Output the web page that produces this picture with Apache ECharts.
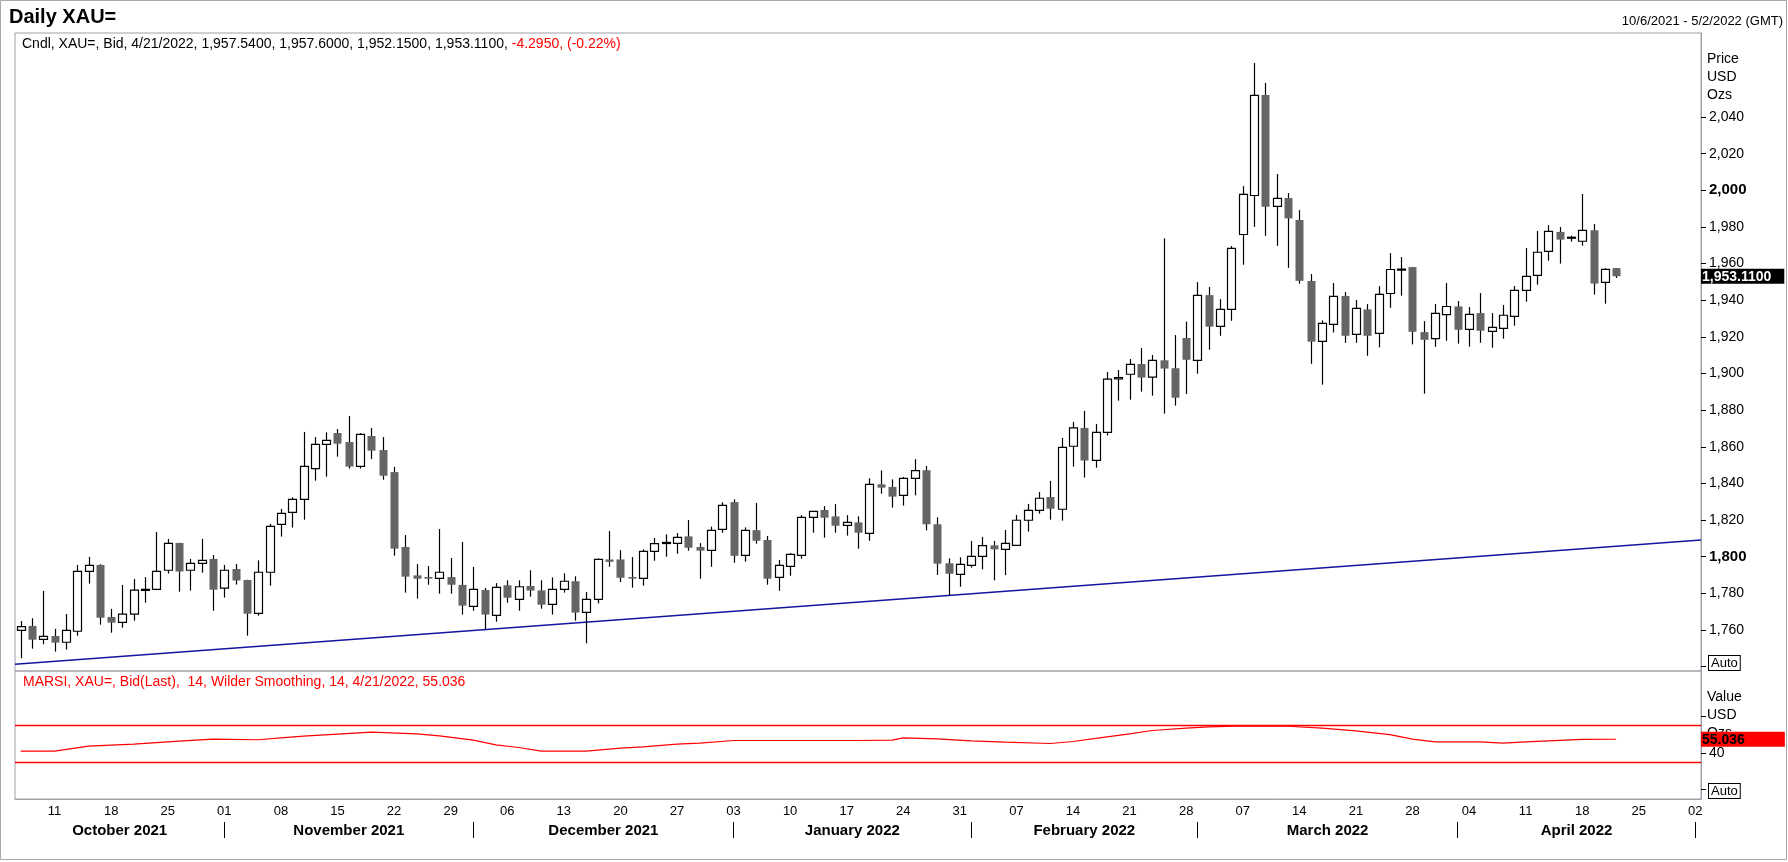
<!DOCTYPE html>
<html>
<head>
<meta charset="utf-8">
<title>Daily XAU=</title>
<script src="https://cdn.jsdelivr.net/npm/echarts@6/dist/echarts.min.js"></script>
<style>
html, body { margin: 0; padding: 0; background: #fff; }
#main { width: 1788px; height: 862px; }
</style>
</head>
<body>
<div id="main"></div>
<script>
// trading days shown on the axis (10/6/2021 - 5/2/2022)
var tradingDays = [
 '2021-10-06','2021-10-07','2021-10-08','2021-10-11','2021-10-12','2021-10-13','2021-10-14','2021-10-15','2021-10-18','2021-10-19',
 '2021-10-20','2021-10-21','2021-10-22','2021-10-25','2021-10-26','2021-10-27','2021-10-28','2021-10-29','2021-11-01','2021-11-02',
 '2021-11-03','2021-11-04','2021-11-05','2021-11-08','2021-11-09','2021-11-10','2021-11-11','2021-11-12','2021-11-15','2021-11-16',
 '2021-11-17','2021-11-18','2021-11-19','2021-11-22','2021-11-23','2021-11-24','2021-11-25','2021-11-26','2021-11-29','2021-11-30',
 '2021-12-01','2021-12-02','2021-12-03','2021-12-06','2021-12-07','2021-12-08','2021-12-09','2021-12-10','2021-12-13','2021-12-14',
 '2021-12-15','2021-12-16','2021-12-17','2021-12-20','2021-12-21','2021-12-22','2021-12-23','2021-12-24','2021-12-27','2021-12-28',
 '2021-12-29','2021-12-30','2021-12-31','2022-01-03','2022-01-04','2022-01-05','2022-01-06','2022-01-07','2022-01-10','2022-01-11',
 '2022-01-12','2022-01-13','2022-01-14','2022-01-17','2022-01-18','2022-01-19','2022-01-20','2022-01-21','2022-01-24','2022-01-25',
 '2022-01-26','2022-01-27','2022-01-28','2022-01-31','2022-02-01','2022-02-02','2022-02-03','2022-02-04','2022-02-07','2022-02-08',
 '2022-02-09','2022-02-10','2022-02-11','2022-02-14','2022-02-15','2022-02-16','2022-02-17','2022-02-18','2022-02-21','2022-02-22',
 '2022-02-23','2022-02-24','2022-02-25','2022-02-28','2022-03-01','2022-03-02','2022-03-03','2022-03-04','2022-03-07','2022-03-08',
 '2022-03-09','2022-03-10','2022-03-11','2022-03-14','2022-03-15','2022-03-16','2022-03-17','2022-03-18','2022-03-21','2022-03-22',
 '2022-03-23','2022-03-24','2022-03-25','2022-03-28','2022-03-29','2022-03-30','2022-03-31','2022-04-01','2022-04-04','2022-04-05',
 '2022-04-06','2022-04-07','2022-04-08','2022-04-11','2022-04-12','2022-04-13','2022-04-14','2022-04-15','2022-04-18','2022-04-19',
 '2022-04-20','2022-04-21','2022-04-22','2022-04-25','2022-04-26','2022-04-27','2022-04-28','2022-04-29','2022-05-02'
];

var opens = [
 1759.8, 1762.2, 1754.9, 1756.7, 1753.3, 1759.3, 1792.0, 1795.5, 1767.1, 1764.2,
 1768.6, 1781.6, 1782.2, 1792.6, 1807.5, 1792.6, 1796.4, 1798.8, 1782.8, 1793.3,
 1787.3, 1769.1, 1791.5, 1817.7, 1824.2, 1831.3, 1848.1, 1861.3, 1867.5, 1862.6,
 1849.3, 1865.9, 1858.2, 1846.2, 1805.3, 1789.8, 1788.9, 1788.2, 1788.9, 1784.6,
 1772.9, 1781.8, 1768.0, 1784.4, 1776.7, 1784.0, 1781.6, 1774.0, 1782.2, 1786.6,
 1769.6, 1776.7, 1798.5, 1798.5, 1788.9, 1788.2, 1802.9, 1807.2, 1807.3, 1811.1,
 1805.3, 1803.5, 1814.9, 1829.8, 1800.7, 1814.5, 1809.1, 1788.7, 1794.7, 1800.7,
 1821.5, 1825.5, 1822.0, 1817.1, 1818.7, 1812.7, 1839.5, 1838.1, 1833.5, 1842.8,
 1847.2, 1817.7, 1796.4, 1790.4, 1795.3, 1800.2, 1806.2, 1804.0, 1806.2, 1819.9,
 1825.3, 1832.6, 1825.9, 1860.3, 1870.3, 1852.6, 1867.9, 1897.0, 1899.6, 1905.2,
 1898.0, 1907.2, 1902.9, 1919.4, 1907.2, 1942.8, 1925.7, 1935.0, 1975.9, 1997.2,
 2052.0, 1991.2, 1995.8, 1983.8, 1950.5, 1917.5, 1926.8, 1942.3, 1921.4, 1935.0,
 1921.9, 1943.7, 1956.5, 1958.1, 1922.6, 1919.1, 1932.2, 1936.6, 1924.1, 1933.0,
 1923.0, 1924.7, 1931.2, 1945.4, 1953.6, 1966.7, 1977.3, 1974.1, 1972.2, 1978.2,
 1949.8, 1957.54
];
var highs = [
 1764.9, 1766.4, 1781.3, 1760.6, 1768.7, 1795.5, 1799.9, 1795.9, 1771.5, 1784.6,
 1787.8, 1788.9, 1813.5, 1809.7, 1807.6, 1798.8, 1809.7, 1800.9, 1795.5, 1796.0,
 1787.4, 1798.0, 1817.9, 1826.1, 1832.4, 1868.1, 1865.3, 1867.9, 1869.7, 1876.8,
 1867.5, 1870.3, 1865.3, 1849.0, 1811.8, 1796.0, 1794.9, 1815.1, 1799.3, 1808.0,
 1794.4, 1782.9, 1785.6, 1787.1, 1787.1, 1792.6, 1787.1, 1788.7, 1790.9, 1789.3,
 1780.7, 1799.0, 1814.0, 1803.6, 1799.8, 1804.0, 1810.2, 1812.2, 1812.9, 1820.0,
 1807.4, 1816.4, 1829.7, 1831.3, 1816.0, 1829.3, 1811.3, 1798.2, 1802.0, 1822.7,
 1824.8, 1827.6, 1828.7, 1822.7, 1822.0, 1842.8, 1847.1, 1842.2, 1843.5, 1853.2,
 1849.5, 1821.5, 1799.1, 1799.7, 1808.6, 1810.8, 1808.6, 1814.6, 1822.8, 1828.8,
 1835.3, 1841.4, 1864.8, 1873.6, 1879.6, 1872.5, 1900.9, 1901.9, 1907.9, 1913.9,
 1910.1, 1973.8, 1921.0, 1928.3, 1949.9, 1947.2, 1940.6, 1969.6, 2002.3, 2069.5,
 2058.6, 2008.9, 1998.5, 1989.2, 1954.3, 1929.0, 1949.4, 1944.5, 1940.1, 1937.9,
 1947.7, 1965.7, 1963.6, 1958.2, 1928.6, 1937.9, 1949.4, 1939.6, 1936.3, 1943.9,
 1933.0, 1937.4, 1947.8, 1968.5, 1977.8, 1981.1, 1980.0, 1975.2, 1998.0, 1981.6,
 1957.4, 1957.60
];
var lows = [
 1744.6, 1749.8, 1752.2, 1748.2, 1749.3, 1756.9, 1785.3, 1762.9, 1758.5, 1761.3,
 1765.1, 1774.9, 1781.7, 1790.8, 1780.9, 1781.5, 1791.3, 1770.5, 1777.7, 1784.8,
 1756.9, 1767.8, 1784.2, 1811.0, 1815.9, 1820.2, 1841.5, 1843.7, 1854.6, 1848.1,
 1848.1, 1853.3, 1842.0, 1800.6, 1780.4, 1777.1, 1784.7, 1779.8, 1779.8, 1768.4,
 1770.5, 1760.4, 1764.5, 1774.9, 1770.5, 1778.2, 1771.6, 1768.4, 1780.4, 1765.1,
 1752.7, 1774.5, 1794.5, 1786.2, 1783.1, 1784.2, 1797.8, 1800.0, 1801.6, 1803.3,
 1788.0, 1794.5, 1813.1, 1796.7, 1797.3, 1807.1, 1784.7, 1781.4, 1789.6, 1798.9,
 1813.1, 1810.4, 1813.1, 1811.5, 1804.4, 1808.7, 1834.4, 1826.8, 1827.9, 1833.5,
 1814.4, 1790.0, 1779.1, 1783.6, 1794.0, 1793.1, 1787.1, 1789.9, 1806.0, 1813.7,
 1823.5, 1820.2, 1819.7, 1849.2, 1843.2, 1848.6, 1866.1, 1885.2, 1885.7, 1890.1,
 1887.9, 1878.1, 1882.5, 1888.8, 1899.9, 1913.0, 1920.6, 1928.8, 1959.4, 1980.1,
 1975.2, 1969.7, 1957.7, 1949.0, 1905.3, 1893.9, 1922.4, 1916.8, 1916.8, 1909.7,
 1914.3, 1935.9, 1942.5, 1915.9, 1889.0, 1914.6, 1917.9, 1916.3, 1914.7, 1916.8,
 1914.1, 1919.0, 1926.1, 1939.2, 1948.5, 1961.6, 1960.0, 1972.0, 1969.8, 1943.1,
 1938.1, 1952.15
];
var closes = [
 1761.8, 1754.7, 1756.5, 1753.1, 1759.8, 1792.0, 1795.3, 1766.7, 1764.0, 1768.6,
 1781.7, 1782.2, 1792.0, 1807.3, 1791.9, 1796.4, 1798.0, 1782.0, 1792.6, 1787.0,
 1768.9, 1791.5, 1816.6, 1823.7, 1831.3, 1849.3, 1861.3, 1863.5, 1861.7, 1849.2,
 1866.8, 1857.9, 1844.2, 1804.4, 1789.1, 1788.0, 1788.0, 1791.5, 1784.7, 1773.3,
 1782.2, 1768.4, 1783.3, 1777.6, 1783.6, 1781.5, 1773.8, 1782.2, 1786.6, 1769.5,
 1776.7, 1798.5, 1797.2, 1788.5, 1788.0, 1802.9, 1807.1, 1807.8, 1810.5, 1804.9,
 1803.3, 1814.4, 1828.0, 1800.5, 1814.4, 1808.7, 1788.0, 1795.3, 1801.3, 1821.5,
 1824.7, 1821.3, 1816.9, 1818.7, 1813.1, 1839.5, 1837.7, 1832.8, 1842.8, 1847.0,
 1817.7, 1796.2, 1790.7, 1795.8, 1800.2, 1806.0, 1804.0, 1807.3, 1819.9, 1825.3,
 1831.9, 1826.2, 1859.7, 1870.3, 1852.5, 1867.9, 1896.9, 1897.8, 1905.0, 1897.8,
 1907.2, 1902.7, 1886.8, 1907.5, 1942.7, 1925.6, 1935.0, 1968.3, 1997.8, 2051.8,
 1991.0, 1995.6, 1984.7, 1950.6, 1917.4, 1927.4, 1942.1, 1920.6, 1935.6, 1920.6,
 1943.2, 1956.8, 1957.0, 1922.8, 1918.4, 1932.8, 1936.6, 1923.9, 1932.3, 1923.4,
 1925.2, 1931.8, 1945.4, 1953.0, 1966.2, 1977.6, 1973.1, 1974.4, 1978.2, 1949.1,
 1956.9, 1953.11
];

// MARSI(14), read at these day indexes
var rsiIdx = [0, 3, 6, 10, 14, 17, 21, 23, 25, 28, 31, 35, 37, 40, 42, 44, 46, 50, 53, 55,
 58, 60, 63, 74, 77, 78, 81, 84, 87, 91, 93, 95, 98, 100, 103, 105, 108, 112, 115, 118,
 121, 123, 125, 129, 131, 133, 135, 138, 141];
var rsiVal = [42.0, 42.0, 47.5, 49.7, 53.0, 55.1, 54.5, 56.6, 58.4, 60.6, 62.8, 61.0, 58.8, 54.0, 48.9, 46.0, 42.0, 42.0, 45.3, 46.8,
 49.7, 50.8, 53.7, 53.7, 54.0, 56.6, 55.5, 53.3, 51.9, 50.4, 52.6, 55.9, 61.0, 64.6, 67.2, 68.6, 69.7, 69.3, 67.2, 64.2,
 60.2, 55.1, 52.2, 52.2, 50.8, 52.2, 53.3, 54.8, 55.036];
var rsiLevels = [70, 30];

// support trend line (ends at the plot edges)
var trendX = [-0.5, 148.5];
var trendY = [1741.3, 1809.1];

var priceLabels = [1760, 1780, 1800, 1820, 1840, 1860, 1880, 1900, 1920, 1940, 1960, 1980, 2000, 2020, 2040];
var priceTicks = [1740].concat(priceLabels);
var rsiLabels = [40];
var rsiTicks = [0, 40, 80];
var monthNames = ['October 2021', 'November 2021', 'December 2021', 'January 2022', 'February 2022', 'March 2022', 'April 2022'];
var changeText = '-4.2950, (-0.22%)';

var FONT = 'Liberation Sans, Arial, sans-serif';

var isMonday = function (d) {
    return new Date(d + 'T00:00:00Z').getUTCDay() === 1;
};
var isMonthStart = function (i) {
    return i > 0 && tradingDays[i].slice(5, 7) !== tradingDays[i - 1].slice(5, 7);
};
var fmt = function (v, d) {
    return v.toLocaleString('en-US', { minimumFractionDigits: d, maximumFractionDigits: d });
};

// month separators and label centres on a value axis
var monthStarts = [];
for (var i = 0; i < tradingDays.length; i++) {
    if (isMonthStart(i)) monthStarts.push(i);
}
var monthCenters = [];
var prev = -0.5;
for (var k = 0; k < monthStarts.length; k++) {
    monthCenters.push((prev + monthStarts[k]) / 2);
    prev = monthStarts[k];
}

var candleData = opens.map(function (o, i) {
    return [i, o, closes[i], lows[i], highs[i]];
});
var rsiData = rsiIdx.map(function (d, i) {
    return [d, rsiVal[i]];
});
var trendData = trendX.map(function (x, i) {
    return [x, trendY[i]];
});
var last = opens.length - 1;
var headerText = 'Cndl, XAU=, Bid, 4/21/2022, ' +
    [opens[last], highs[last], lows[last], closes[last]].map(function (v) { return fmt(v, 4); }).join(', ') + ', ';

var renderCandle = function (params, api) {
    var i = api.value(0);
    var o = api.value(1), c = api.value(2), l = api.value(3), h = api.value(4);
    var top = api.coord([i, Math.max(o, c)]);
    var bot = api.coord([i, Math.min(o, c)]);
    var hi = api.coord([i, h]);
    var lo = api.coord([i, l]);
    var w = Math.round(api.size([1, 0])[0] * 0.72);
    var x = Math.round(top[0]) + 0.5;
    var up = c >= o;
    return {
        type: 'group',
        children: [
            { type: 'line', shape: { x1: x, y1: hi[1], x2: x, y2: lo[1] }, style: { stroke: '#000', lineWidth: 1.2 } },
            {
                type: 'rect',
                shape: { x: x - w / 2, y: top[1], width: w, height: Math.max(bot[1] - top[1], 1) },
                style: up ? { fill: '#fff', stroke: '#000', lineWidth: 1.2 } : { fill: '#656565', stroke: null }
            }
        ]
    };
};

var option = {
    animation: false,
    backgroundColor: '#fff',
    tooltip: { show: false },
    grid: [
        { left: 15, right: 87, top: 33, height: 638, show: true, borderColor: '#a0a0a8', borderWidth: 1 },
        { left: 15, right: 87, top: 671, height: 128, show: true, borderColor: '#a0a0a8', borderWidth: 1 }
    ],
    xAxis: [
        { type: 'category', gridIndex: 0, data: tradingDays, boundaryGap: true, show: false },
        {
            type: 'category', gridIndex: 1, data: tradingDays, boundaryGap: true,
            axisLine: { onZero: false, lineStyle: { color: '#a0a0a8' } },
            axisTick: {
                alignWithLabel: true, length: 4, lineStyle: { color: '#000' },
                interval: function (index, value) { return isMonday(value) || isMonthStart(index); }
            },
            axisLabel: {
                interval: function (index, value) { return isMonday(value); },
                formatter: function (value) { return value.slice(8); },
                color: '#000', fontSize: 13, fontFamily: FONT, margin: 6
            },
            splitLine: { show: false }
        },
        {
            type: 'value', gridIndex: 1, min: -0.5, max: 148.5, position: 'bottom', offset: 23,
            axisLine: { show: false, onZero: false },
            axisTick: { show: true, customValues: monthStarts, length: 16, lineStyle: { color: '#000' } },
            axisLabel: {
                customValues: monthCenters, margin: 1,
                formatter: function (v) { return monthNames[monthCenters.indexOf(v)] || ''; },
                color: '#000', fontSize: 15, fontWeight: 'bold', fontFamily: FONT
            },
            splitLine: { show: false }
        },
        { type: 'value', gridIndex: 0, min: -0.5, max: 148.5, show: false, axisLine: { onZero: false } }
    ],
    yAxis: [
        {
            type: 'value', gridIndex: 0, position: 'right', min: 1737.6, max: 2085.9,
            axisLine: { show: true, onZero: false, lineStyle: { color: '#a0a0a8' } },
            axisTick: { show: true, customValues: priceTicks, length: 5, lineStyle: { color: '#000' } },
            axisLabel: {
                customValues: priceLabels, margin: 8, color: '#000', fontSize: 14, fontFamily: FONT,
                formatter: function (v) {
                    var s = v.toLocaleString('en-US');
                    return v % 200 === 0 ? '{b|' + s + '}' : s;
                },
                rich: { b: { fontSize: 15, fontWeight: 'bold', color: '#000', fontFamily: FONT } }
            },
            splitLine: { show: false },
            axisPointer: {
                show: true, status: 'show', value: closes[last], triggerTooltip: false,
                lineStyle: { opacity: 0 },
                label: {
                    show: true, margin: 0, padding: [1, 13, 0, 1], backgroundColor: '#000', color: '#fff',
                    fontWeight: 'bold', fontSize: 14, fontFamily: FONT, borderRadius: 0,
                    formatter: function () { return fmt(closes[last], 4); }
                }
            }
        },
        {
            type: 'value', gridIndex: 1, position: 'right', min: -10.4, max: 129.8,
            axisLine: { show: true, onZero: false, lineStyle: { color: '#a0a0a8' } },
            axisTick: { show: true, customValues: rsiTicks, length: 5, lineStyle: { color: '#000' } },
            axisLabel: { customValues: rsiLabels, margin: 8, color: '#000', fontSize: 14, fontFamily: FONT },
            splitLine: { show: false },
            axisPointer: {
                show: true, status: 'show', value: rsiVal[rsiVal.length - 1], triggerTooltip: false,
                lineStyle: { opacity: 0 },
                label: {
                    show: true, margin: 0, padding: [1, 40, 0, 1], backgroundColor: '#ff0000', color: '#000',
                    fontWeight: 'bold', fontSize: 14, fontFamily: FONT, borderRadius: 0,
                    formatter: function () { return rsiVal[rsiVal.length - 1].toFixed(3); }
                }
            }
        }
    ],
    series: [
        {
            name: 'trend', type: 'line', xAxisIndex: 3, yAxisIndex: 0, data: trendData,
            symbol: 'none', lineStyle: { color: '#1414a0', width: 1.4 }, z: 1, silent: true
        },
        {
            name: 'XAU=', type: 'custom', xAxisIndex: 0, yAxisIndex: 0, data: candleData,
            renderItem: renderCandle, encode: { x: 0, y: [1, 2, 3, 4] }, z: 3, silent: true
        },
        {
            name: 'MARSI', type: 'line', xAxisIndex: 1, yAxisIndex: 1, data: rsiData,
            symbol: 'none', lineStyle: { color: '#ff0000', width: 1.2 }, silent: true,
            markLine: {
                silent: true, symbol: 'none', label: { show: false },
                lineStyle: { color: '#ff0000', type: 'solid', width: 1.3 },
                data: rsiLevels.map(function (v) { return { yAxis: v }; })
            }
        }
    ],
    graphic: [
        { type: 'rect', silent: true, shape: { x: 0.5, y: 0.5, width: 1786, height: 859 }, style: { fill: 'none', stroke: '#a8a8a8' } },
        { type: 'text', left: 9, top: 7, style: { text: 'Daily XAU=', font: 'bold 20px ' + FONT, fill: '#000' } },
        { type: 'text', right: 5, top: 15, style: { text: '10/6/2021 - 5/2/2022 (GMT)', font: '13px ' + FONT, fill: '#000' } },
        {
            type: 'text', left: 22, top: 37,
            style: {
                text: '{k|' + headerText + '}{r|' + changeText + '}',
                rich: {
                    k: { fill: '#000', fontSize: 14, fontFamily: FONT },
                    r: { fill: '#ff0000', fontSize: 14, fontFamily: FONT }
                }
            }
        },
        {
            type: 'text', left: 23, top: 675,
            style: { text: 'MARSI, XAU=, Bid(Last),  14, Wilder Smoothing, 14, 4/21/2022, ' + rsiVal[rsiVal.length - 1], font: '14px ' + FONT, fill: '#ff0000' }
        },
        { type: 'text', left: 1707, top: 50, style: { text: 'Price\nUSD\nOzs', font: '14px ' + FONT, fill: '#000', lineHeight: 18 } },
        { type: 'text', left: 1707, top: 688, z: -1, style: { text: 'Value\nUSD\nOzs', font: '14px ' + FONT, fill: '#000', lineHeight: 18 } },
        { type: 'text', left: 1708, top: 655, style: { text: 'Auto', font: '13px ' + FONT, fill: '#000', backgroundColor: '#fff', borderColor: '#000', borderWidth: 1, padding: [1, 2, 0, 2] } },
        { type: 'text', left: 1708, top: 783, style: { text: 'Auto', font: '13px ' + FONT, fill: '#000', backgroundColor: '#fff', borderColor: '#000', borderWidth: 1, padding: [1, 2, 0, 2] } }
    ]
};

var myChart = echarts.init(document.getElementById('main'));
myChart.setOption(option);
</script>
</body>
</html>
